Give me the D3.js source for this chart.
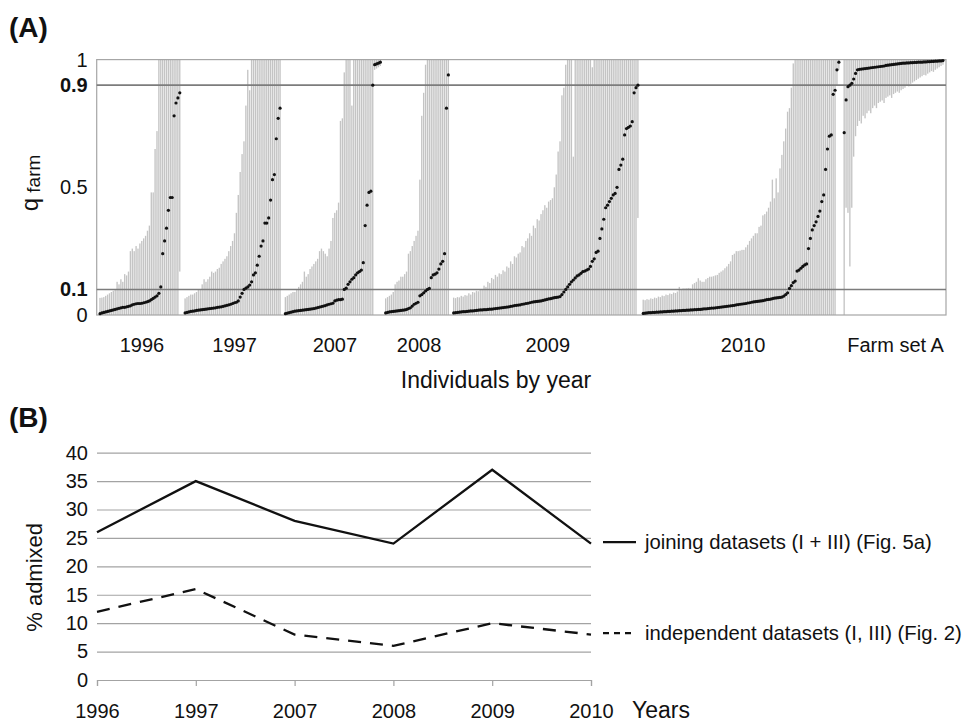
<!DOCTYPE html>
<html>
<head>
<meta charset="utf-8">
<script src="https://cdn.jsdelivr.net/npm/d3@7/dist/d3.min.js"></script>
<style>
  body { margin: 0; background: #fff; }
  svg { display: block; font-family: "Liberation Sans", Arial, sans-serif; }
</style>
</head>
<body>
<svg id="chart" width="967" height="722"></svg>
<script>
// ---------- Panel A: individual q_farm estimates with credible intervals ----------
const groupLabels = ["1996", "1997", "2007", "2008", "2009", "2010", "Farm set A"];

const q1996 = [.005,.008,.01,.012,.014,.016,.018,.02,.022,.024,.026,.028,.03,.03,.032,.034,.036,.04,.042,.044,.045,.045,.046,.048,.05,.052,.055,.06,.065,.07,.075,.085,.11,.24,.29,.34,.41,.46,.46,.78,.83,.85,.87];
const hi1996 = [.067,.068,.07,.075,.08,.085,.09,.095,.1,.13,.12,.14,.13,.16,.155,.17,.25,.26,.25,.27,.26,.28,.29,.3,.31,.33,.35,.48,.48,.65,.72,1,1,1,1,1,1,1,1,1,1,1,1];
const lo1996 = [0,0,0,0,0,0,0,0,0,0,0,0,0,0,0,0,0,0,0,0,0,0,0,0,0,0,0,0,0,0,0,0,0,0,0,0,0,0,0,0,0,0,.17];

const q1997 = [.008,.01,.012,.014,.015,.016,.018,.019,.02,.021,.022,.023,.024,.025,.026,.027,.028,.03,.031,.032,.034,.036,.038,.04,.042,.045,.048,.05,.055,.07,.085,.1,.105,.11,.117,.13,.157,.165,.195,.23,.27,.29,.36,.36,.38,.45,.53,.55,.69,.77,.81];
const hi1997 = [.065,.07,.075,.08,.08,.085,.09,.1,.1,.12,.14,.13,.14,.15,.17,.165,.17,.18,.185,.2,.21,.22,.23,.25,.27,.29,.32,.4,.47,.56,.63,.68,.82,.96,.88,1,1,1,1,1,1,1,1,1,1,1,1,1,1,1,1];
const lo1997 = [0,0,0,0,0,0,0,0,0,0,0,0,0,0,0,0,0,0,0,0,0,0,0,0,0,0,0,0,0,0,0,0,0,0,0,0,0,0,0,0,0,0,0,0,0,0,0,0,0,0,0];

const q2007 = [.005,.007,.009,.011,.013,.015,.016,.017,.018,.019,.02,.021,.022,.023,.024,.025,.027,.029,.031,.033,.035,.037,.04,.042,.044,.046,.055,.058,.06,.06,.062,.1,.105,.12,.13,.14,.146,.157,.165,.17,.176,.205,.35,.43,.48,.485,.9,.98,.983,.986,.99];
const hi2007 = [.07,.075,.08,.085,.09,.09,.1,.11,.12,.13,.17,.15,.16,.18,.19,.2,.21,.22,.25,.26,.25,.24,.23,.26,.29,.38,.4,.41,.44,.76,.77,.95,1,1,1,.82,1,1,1,1,1,1,1,1,1,1,1,1,1,1,1];
const lo2007 = [0,0,0,0,0,0,0,0,0,0,0,0,0,0,0,0,0,0,0,0,0,0,0,0,0,0,0,0,0,0,0,0,0,0,0,0,0,0,0,0,0,0,0,0,0,0,0,.96,.965,.97,.975];

const q2008 = [.008,.01,.012,.013,.014,.015,.016,.017,.018,.019,.02,.022,.025,.028,.035,.042,.046,.05,.075,.08,.087,.094,.1,.104,.146,.157,.16,.165,.18,.2,.21,.24,.81,.94];
const hi2008 = [.065,.07,.075,.08,.09,.12,.13,.135,.15,.15,.16,.17,.24,.25,.27,.29,.31,.33,.53,.78,.87,.98,1,1,1,1,1,1,1,1,1,1,1,1];
const lo2008 = [0,0,0,0,0,0,0,0,0,0,0,0,0,0,0,0,0,0,0,0,0,0,0,0,0,0,0,0,0,0,0,0,0,0];

const q2009 = [.008,.009,.01,.011,.012,.013,
  .013,.014,.015,.016,.016,.017,.018,.019,.02,
  .02,.021,.021,.022,.023,.023,.024,.025,.026,
  .027,.028,.029,.03,.031,.032,.034,.035,.037,
  .038,.039,.04,.042,.043,.045,.046,.048,.05,
  .051,.052,.053,.054,.055,.057,.059,.061,.063,
  .064,.066,.068,.069,.07,.072,
  .08,.09,.1,.11,.12,.13,.137,.145,.153,.157,
  .163,.17,.172,.176,.18,.19,.21,.22,.245,.25,
  .3,.337,.375,.42,.43,.444,.457,.47,.476,.5,
  .57,.587,.61,.705,.73,.735,.74,.757,.87,.89,.9];
const hi2009 = [.068,.066,.07,.069,.075,.072,.078,.076,.085,.08,
  .09,.088,.095,.093,.1,.098,.115,.11,.13,.125,
  .145,.14,.157,.15,.163,.16,.175,.17,.19,.185,
  .21,.2,.23,.225,.24,.245,.27,.265,.29,.3,
  .32,.31,.35,.34,.375,.37,.395,.41,.43,.42,
  .444,.45,.457,.5,.55,.64,.68,.86,.89,.98,
  1,1,1,.62,1,1,1,1,1,1,
  1,1,1,.97,1,1,1,1,1,1,
  1,1,1,1,1,1,1,1,1,1,
  1,1,1,1,1,1,1,1];
const lo2009 = [0,0,0,0,0,0,0,0,0,0,0,0,0,0,0,0,0,0,0,0,0,0,0,0,0,0,0,0,0,0,0,0,0,0,0,0,0,0,0,0,0,0,0,0,0,0,0,0,0,0,
  0,0,0,0,0,0,0,0,0,0,0,0,0,0,0,0,0,0,0,0,0,0,0,0,0,0,0,0,0,0,0,0,0,0,0,0,0,0,0,0,0,0,0,0,0,0,0,.38];

const q2010 = [.006,.007,.008,.009,.009,.01,.01,.011,.011,.012,
  .012,.013,.013,.014,.014,.015,.015,.016,.016,.017,
  .017,.018,.018,.019,.019,.02,.02,.021,.021,.022,
  .022,.023,.024,.024,.025,.026,.027,.027,.028,.029,
  .03,.031,.032,.033,.034,.035,.036,.037,.038,.04,
  .041,.042,.043,.044,.045,.047,.048,.05,.051,.052,
  .053,.054,.055,.056,.058,.06,.061,.062,.064,.066,
  .067,.068,.069,.07,.074,.08,.087,.104,.115,.127,
  .133,.172,.176,.183,.19,.196,.2,.26,.3,.333,
  .35,.365,.386,.407,.444,.47,.57,.65,.7,.705,
  .864,.88,.96,.99];
const hi2010 = [.06,.058,.062,.06,.065,.063,.068,.066,.072,.07,
  .076,.074,.08,.078,.084,.082,.088,.086,.092,.11,
  .1,.104,.104,.105,.106,.104,.12,.125,.13,.144,
  .135,.13,.13,.14,.145,.15,.15,.152,.155,.157,
  .165,.17,.175,.183,.19,.2,.21,.235,.24,.25,
  .25,.252,.255,.255,.265,.275,.29,.3,.31,.32,
  .32,.345,.35,.39,.395,.405,.42,.444,.53,.457,
  .535,.48,.574,.627,.68,.73,.796,.81,.89,.985,
  1,1,1,1,1,1,1,1,1,1,
  1,1,1,1,1,1,1,1,1,1,
  1,1,1,1];
const lo2010 = [0,0,0,0,0,0,0,0,0,0,0,0,0,0,0,0,0,0,0,0,0,0,0,0,0,0,0,0,0,0,0,0,0,0,0,0,0,0,0,0,0,0,0,0,0,0,0,0,0,0,
  0,0,0,0,0,0,0,0,0,0,0,0,0,0,0,0,0,0,0,0,0,0,0,0,0,0,0,0,0,0,0,0,0,0,0,0,0,0,0,0,0,0,0,0,0,0,0,0,0,0,
  0,0,.9,.96];

const qFarmA = [.714,.842,.894,.9,.907,.924,.946,
  .96,.962,.963,.964,.965,.966,.967,.968,.969,.97,
  .971,.972,.973,.974,.975,.977,.978,.979,.98,.981,
  .982,.983,.984,.985,.986,.986,.987,.987,.988,.988,
  .989,.989,.99,.99,.99,.991,.991,.992,.992,.993,
  .993,.994,.994,.995,.995,.996];
const hiFarmA = [1,1,1,1,1,1,1,1,1,1,1,1,1,1,1,1,1,1,1,1,1,1,1,1,1,1,1,1,1,1,1,1,1,1,1,1,1,1,1,1,1,1,1,1,1,1,1,1,1,1,1,1,1];
const loFarmA = [0,.42,.4,.19,.42,.62,.7,.74,.76,.75,
  .78,.77,.79,.8,.79,.81,.82,.81,.83,.835,
  .84,.83,.85,.855,.86,.85,.865,.87,.875,.87,
  .88,.885,.89,.9,.895,.905,.91,.915,.92,.925,
  .93,.935,.94,.938,.945,.95,.955,.952,.96,.965,
  .97,.975,.98];

const qTicks = [0, 0.1, 0.5, 0.9, 1];
const qBoldTicks = [0.1, 0.9];

// ---------- Panel B: percentage of admixed individuals per year ----------
const years = ["1996", "1997", "2007", "2008", "2009", "2010"];
const joining = [26, 35, 28, 24, 37, 24];
const independent = [12, 16, 8, 6, 10, 8];
const admixTicks = [0, 5, 10, 15, 20, 25, 30, 35, 40];
const seriesNames = ["joining datasets (I + III) (Fig. 5a)", "independent datasets (I, III) (Fig. 2)"];

// ---------- drawing ----------
const svg = d3.select("#chart");
const FONT = "\"Liberation Sans\", Arial, sans-serif";

const groups = [
  {label: groupLabels[0], q: q1996, hi: hi1996, lo: lo1996},
  {label: groupLabels[1], q: q1997, hi: hi1997, lo: lo1997},
  {label: groupLabels[2], q: q2007, hi: hi2007, lo: lo2007},
  {label: groupLabels[3], q: q2008, hi: hi2008, lo: lo2008},
  {label: groupLabels[4], q: q2009, hi: hi2009, lo: lo2009},
  {label: groupLabels[5], q: q2010, hi: hi2010, lo: lo2010},
  {label: groupLabels[6], q: qFarmA, hi: hiFarmA, lo: loFarmA}
];

// slot layout: one slot per individual, a small empty gap between groups
const EDGE_PAD = 1.75, GROUP_GAP = 1.8;
let cursor = EDGE_PAD;
groups.forEach(g => {
  g.start = cursor;
  g.end = cursor + g.q.length - 1;
  cursor = g.end + 1 + GROUP_GAP;
});
const slotMax = groups[groups.length - 1].end + 1.6;

const A = {left: 96.7, right: 946, top: 59.6, bottom: 315};
const xA = d3.scaleLinear().domain([0, slotMax]).range([A.left, A.right]);
const yA = d3.scaleLinear().domain([0, 1]).range([A.bottom, A.top]);

const gA = svg.append("g");

// interval bars
groups.forEach(g => {
  gA.append("g").selectAll("rect")
    .data(g.q.map((v, i) => ({pos: g.start + i, lo: g.lo[i], hi: g.hi[i]})))
    .join("rect")
    .attr("x", d => xA(d.pos) - 0.7)
    .attr("width", 1.35)
    .attr("y", d => yA(d.hi))
    .attr("height", d => Math.max(0.8, yA(d.lo) - yA(d.hi)))
    .attr("fill", "#c4c4c4");
});

// frame (top at q = 1, bottom at q = 0)
gA.append("rect")
  .attr("x", A.left).attr("y", yA(1))
  .attr("width", A.right - A.left).attr("height", yA(0) - yA(1))
  .attr("fill", "none").attr("stroke", "#a6a6a6").attr("stroke-width", 1.2);

// threshold lines
gA.selectAll("line.thr").data(qBoldTicks).join("line")
  .attr("class", "thr")
  .attr("x1", A.left).attr("x2", A.right)
  .attr("y1", d => yA(d)).attr("y2", d => yA(d))
  .attr("stroke", "#7c7c7c").attr("stroke-width", 1.6);

// point estimates
groups.forEach(g => {
  gA.append("g").selectAll("circle")
    .data(g.q.map((v, i) => ({pos: g.start + i, v})))
    .join("circle")
    .attr("cx", d => xA(d.pos))
    .attr("cy", d => yA(d.v))
    .attr("r", 1.6)
    .attr("fill", "#111");
});

// y axis labels
const axA = d3.axisLeft(yA).tickValues(qTicks).tickSize(0).tickPadding(9)
  .tickFormat(d => (d === 0 || d === 1) ? String(d) : d3.format(".1f")(d));
const axAg = gA.append("g").attr("transform", `translate(${A.left},0)`).call(axA);
axAg.select(".domain").remove();
axAg.selectAll("text")
  .attr("font-family", FONT).attr("font-size", 20).attr("fill", "#111")
  .attr("font-weight", d => qBoldTicks.includes(d) ? "bold" : "normal");

// group labels
gA.selectAll("text.grp").data(groups).join("text")
  .attr("class", "grp")
  .attr("x", d => xA((d.start + d.end) / 2) + 2)
  .attr("y", 352)
  .attr("text-anchor", "middle")
  .attr("font-size", 20).attr("fill", "#111")
  .text(d => d.label);

gA.append("text").attr("x", 496).attr("y", 388).attr("text-anchor", "middle")
  .attr("font-size", 23).attr("fill", "#111").text("Individuals by year");

const qTitle = gA.append("text")
  .attr("transform", "translate(38,183) rotate(-90)")
  .attr("text-anchor", "middle").attr("fill", "#111");
qTitle.append("tspan").attr("font-size", 24).text("q");
qTitle.append("tspan").attr("font-size", 19).attr("dy", 2).text(" farm");

svg.append("text").attr("x", 9).attr("y", 37).attr("font-size", 28)
  .attr("font-weight", "bold").attr("fill", "#111").text("(A)");

// ---------- Panel B ----------
const B = {left: 97, right: 591, top: 452.7, bottom: 680};
const xB = d3.scalePoint().domain(years).range([B.left, B.right]);
const yB = d3.scaleLinear().domain([0, 40]).range([B.bottom, B.top]);
const gB = svg.append("g");

const gridB = gB.append("g").attr("transform", `translate(${B.left},0)`)
  .call(d3.axisLeft(yB).tickValues(admixTicks).tickSize(-(B.right - B.left)).tickPadding(9));
gridB.select(".domain").remove();
gridB.selectAll(".tick line").attr("stroke", "#a3a3a3").attr("stroke-width", 1.2);
gridB.selectAll("text").attr("font-family", FONT).attr("font-size", 20).attr("fill", "#111");

const axB = gB.append("g").attr("transform", `translate(0,${B.bottom})`)
  .call(d3.axisBottom(xB).tickSize(6).tickPadding(18));
axB.select(".domain").attr("stroke", "#a3a3a3").attr("stroke-width", 1.2);
axB.selectAll(".tick line").attr("stroke", "#a3a3a3").attr("stroke-width", 1.2);
axB.selectAll("text").attr("font-family", FONT).attr("font-size", 20).attr("fill", "#111");

const lineB = d3.line().x((d, i) => xB(years[i])).y(d => yB(d));
gB.append("path").datum(joining).attr("d", lineB)
  .attr("fill", "none").attr("stroke", "#111").attr("stroke-width", 2.3);
gB.append("path").datum(independent).attr("d", lineB)
  .attr("fill", "none").attr("stroke", "#111").attr("stroke-width", 2.3)
  .attr("stroke-dasharray", "13,9");

// series labels next to the last point of each line
const legend = [
  {name: seriesNames[0], last: joining[joining.length - 1], dash: null},
  {name: seriesNames[1], last: independent[independent.length - 1], dash: "6,5"}
];
legend.forEach(l => {
  const y = yB(l.last) - 1.5;
  gB.append("line").attr("x1", 603).attr("x2", 636).attr("y1", y).attr("y2", y)
    .attr("stroke", "#111").attr("stroke-width", 2.3)
    .attr("stroke-dasharray", l.dash);
  gB.append("text").attr("x", 645).attr("y", y).attr("dy", "0.35em")
    .attr("font-size", 20.3).attr("fill", "#111").text(l.name);
});

gB.append("text").attr("x", 632).attr("y", 718).attr("font-size", 23)
  .attr("fill", "#111").text("Years");

gB.append("text").attr("transform", `translate(42,${(B.top + B.bottom) / 2 + 11}) rotate(-90)`)
  .attr("text-anchor", "middle").attr("font-size", 22).attr("fill", "#111").text("% admixed");

svg.append("text").attr("x", 9).attr("y", 427).attr("font-size", 28)
  .attr("font-weight", "bold").attr("fill", "#111").text("(B)");

svg.selectAll("text").attr("font-family", FONT);
</script>
</body>
</html>
